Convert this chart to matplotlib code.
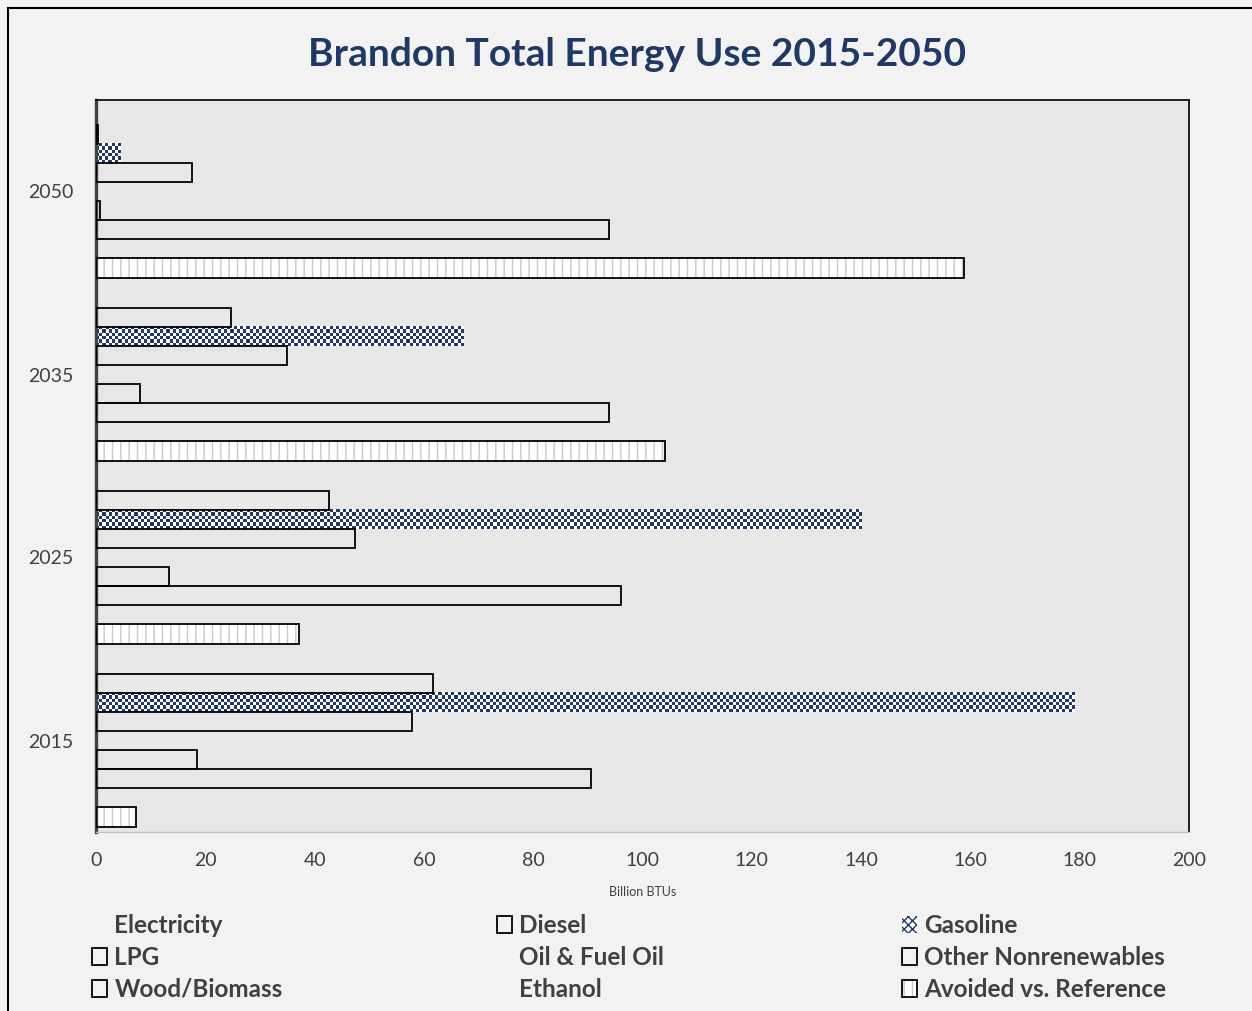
import matplotlib
matplotlib.use("Agg")
import matplotlib.pyplot as plt
import numpy as np
from matplotlib.colors import ListedColormap
from matplotlib.patches import Patch, Rectangle
from matplotlib.legend_handler import HandlerTuple

# data (Billion BTUs)
years = ["2015", "2025", "2035", "2050"]
series = [
    "Electricity", "Diesel", "Gasoline", "LPG", "Oil & Fuel Oil",
    "Other Nonrenewables", "Wood/Biomass", "Ethanol", "Avoided vs. Reference",
]
electricity = [0, 0, 0, 0]
diesel = [61.7, 42.6, 24.7, 0.3]
gasoline = [179.0, 140.0, 67.2, 4.4]
lpg = [57.8, 47.4, 35.0, 17.6]
oil_fuel_oil = [0, 0, 0, 0]
other_nonrenew = [18.5, 13.4, 8.1, 0.7]
wood_biomass = [90.6, 96.1, 93.9, 93.9]
ethanol = [0, 0, 0, 0]
avoided = [7.3, 37.1, 104.1, 158.8]
values = [electricity, diesel, gasoline, lpg, oil_fuel_oil,
          other_nonrenew, wood_biomass, ethanol, avoided]
x_ticks = [0, 20, 40, 60, 80, 100, 120, 140, 160, 180, 200]

NAVY = "#1f3864"
TXT = "#404040"
FONT = "Lato"

plt.rcParams["font.family"] = [FONT, "DejaVu Sans"]

W, H = 1252, 1011
fig = plt.figure(figsize=(W / 100, H / 100), dpi=100, facecolor="#f2f2f2")
ax = fig.add_axes([96 / W, 1 - 832 / H, (1189 - 96) / W, (832 - 100) / H])
ax.set_facecolor("#e7e7e7")

# outer chart border (only left and top are inside the picture)
fig.add_artist(Rectangle((8 / W, -0.05), 1.2, 1 - 8 / H + 0.05,
                         transform=fig.transFigure, fill=False,
                         ec="black", lw=1.5, clip_on=False))

bh = 0.1045
yc = np.arange(len(years))
checker = ListedColormap(["white", NAVY])

for i, (name, vals) in enumerate(zip(series, values)):
    ypos = yc + (4 - i) * bh
    if name in ("Electricity", "Oil & Fuel Oil", "Ethanol"):
        ax.barh(ypos, vals, height=bh, color="none", edgecolor="none")
    elif name == "Gasoline":
        bars = ax.barh(ypos, vals, height=bh, color="none", edgecolor="none")
        for b, v, y in zip(bars, vals, ypos):
            nx = max(1, int(round(v * 5.465 / 3.2)))
            ny = 6
            jj, ii = np.indices((ny, nx))
            ax.imshow((ii + jj) % 2, cmap=checker, interpolation="nearest",
                      extent=(0, v, y - bh / 2, y + bh / 2), aspect="auto",
                      clip_path=b, zorder=2)
    elif name == "Avoided vs. Reference":
        ax.barh(ypos, vals, height=bh, color="white", edgecolor="#c8c8c8",
                hatch="||", lw=0, zorder=2)
        ax.barh(ypos, vals, height=bh, color="none", edgecolor="black",
                lw=1.3, zorder=3)
    else:
        ax.barh(ypos, vals, height=bh, color="none", edgecolor="black",
                lw=1.3, zorder=3)

ax.set_xlim(0, 200)
ax.set_ylim(-0.5, 3.5)
ax.set_xticks(x_ticks)
ax.set_xticklabels([str(t) for t in x_ticks])
ax.set_yticks(yc)
ax.set_yticklabels(years)
ax.tick_params(axis="both", length=0, labelsize=14, labelcolor=TXT)
ax.tick_params(axis="x", pad=14.5)
ax.tick_params(axis="y", pad=16)

ax.spines["left"].set_color("#404040")
ax.spines["left"].set_linewidth(2.4)
ax.spines["top"].set_color("black")
ax.spines["top"].set_linewidth(1.2)
ax.spines["right"].set_color("black")
ax.spines["right"].set_linewidth(1.2)
ax.spines["bottom"].set_color("#c0c0c0")
ax.spines["bottom"].set_linewidth(1.0)

ax.set_xlabel("Billion BTUs", fontsize=9, color=TXT, labelpad=12)

fig.text(642 / W, 1 - 55 / H, "Brandon Total Energy Use 2015-2050 ",
         ha="center", va="center", fontsize=28, fontweight="bold", color=NAVY)

# legend, three columns like the reference
blank = Patch(facecolor="none", edgecolor="none")
box = Patch(facecolor="none", edgecolor="black", lw=1.3)
gas = (Patch(facecolor="white", edgecolor="none"),
       Patch(facecolor="none", edgecolor=NAVY, hatch="xxxx", lw=0))
avd = (Patch(facecolor="white", edgecolor="#c8c8c8", hatch="||", lw=0),
       Patch(facecolor="none", edgecolor="black", lw=1.3))
handles = {
    "Electricity": blank, "Diesel": box, "Gasoline": gas, "LPG": box,
    "Oil & Fuel Oil": blank, "Other Nonrenewables": box,
    "Wood/Biomass": box, "Ethanol": blank, "Avoided vs. Reference": avd,
}
col_x = [92, 497, 902]
for c in range(3):
    names = series[c::3]
    leg = fig.legend([handles[s] for s in names], names,
                     loc="upper left", bbox_to_anchor=(col_x[c] / W, 1 - 914 / H),
                     frameon=False, handlelength=0.62, handleheight=0.75,
                     handletextpad=0.3, labelspacing=0.37, borderpad=0,
                     borderaxespad=0, fontsize=17.5,
                     handler_map={tuple: HandlerTuple(ndivide=1)})
    for t in leg.get_texts():
        t.set_fontweight("bold")
        t.set_color(TXT)

fig.savefig("out.png", dpi=100, facecolor=fig.get_facecolor())
